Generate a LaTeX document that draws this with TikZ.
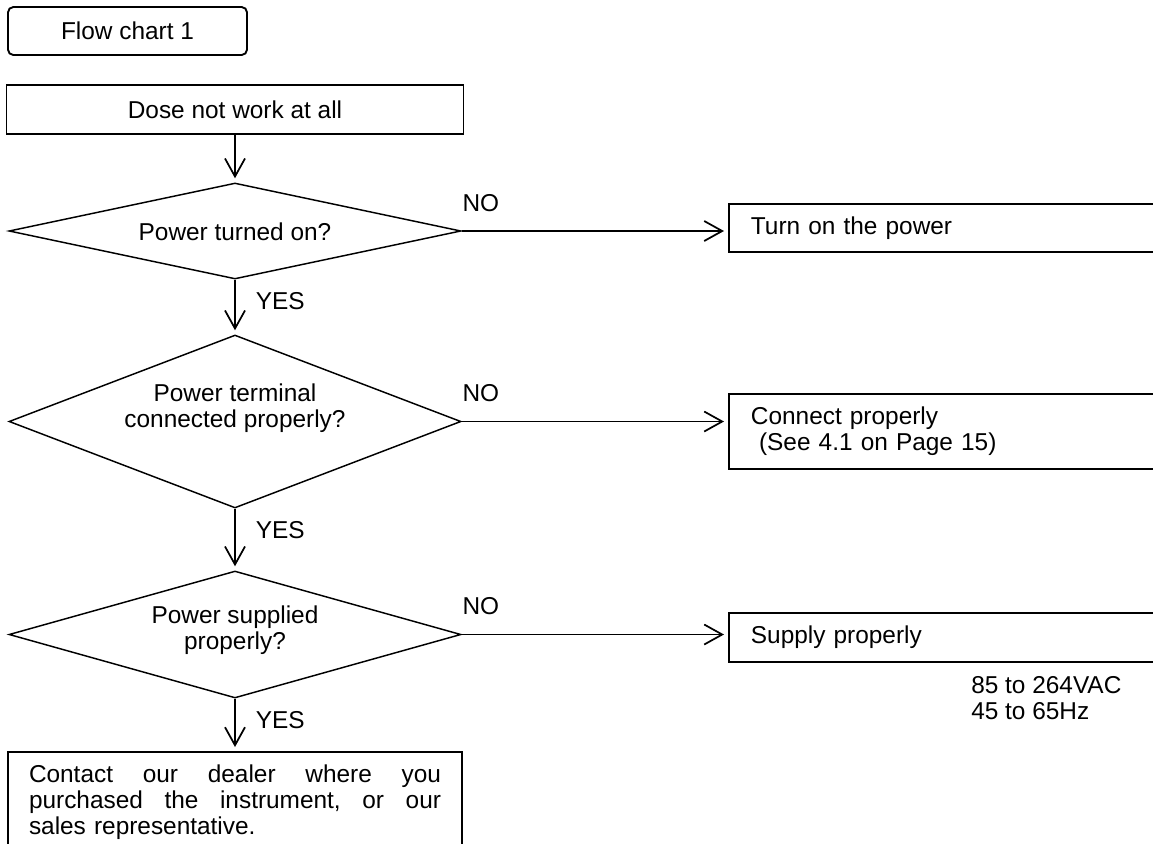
\documentclass[tikz,border=0pt]{standalone}
\usepackage{fontspec}
\setmainfont{Liberation Sans}
\usepackage{tikz}
\usetikzlibrary{arrows.meta,positioning,shapes.geometric,calc}

\tikzset{
  chartbox/.style={draw, line width=1.4pt, minimum height=36.75pt, inner sep=0pt},
  actbox/.style={draw, line width=1.4pt, anchor=west, text width=420pt, inner xsep=16.5pt, inner ysep=0pt, align=left},
  decision/.style={draw, diamond, line width=1.1pt, inner sep=0pt, minimum width=339pt, aspect=3},
  qtext/.style={align=center, inner sep=0pt},
  flow/.style={-{Straight Barb[length=13.5pt,width=15pt]}, line width=1.3pt, shorten >=3pt},
  answer/.style={inner sep=0pt, anchor=west},
  yeslabel/.style={answer, xshift=15pt, yshift=-15.75pt},
  nolabel/.style={answer, yshift=21pt}
}

\begin{document}
\begin{tikzpicture}[x=0.75pt, y=-0.75pt, font=\fontsize{18.3}{19.5}\selectfont]

\useasboundingbox (0,0) rectangle (1153,843);
\clip (0,0) rectangle (1153,843);

% Title box
\node[chartbox, rounded corners=4pt, minimum width=179.25pt, minimum height=36pt] (title) at (127.5,31) {Flow chart 1};

% Main column
\node[chartbox, minimum width=342.75pt] (start) at (235,109.5) {Dose not work at all};

\node[decision, minimum height=72pt] (q1) at (235,231) {};
\node[qtext] (q1text) at (235,232) {Power turned on?};

\node[decision, minimum height=129.75pt] (q2) at (235,421.5) {};
\node[qtext] (q2text) at (235,408) {Power terminal\\connected properly?};

\node[decision, minimum height=95.25pt] (q3) at (235,634.5) {};
\node[qtext] (q3text) at (235,630) {Power supplied\\properly?};

\node[draw, line width=1.4pt, anchor=north, text width=309pt, inner xsep=15.75pt, inner ysep=9.5pt, align=left] (dealer) at (235,751)
  {\makebox[309pt][s]{Contact\hfill our\hfill dealer\hfill where\hfill you}\\
   \makebox[309pt][s]{purchased\hfill the\hfill instrument,\hfill or\hfill our}\\
   sales representative.};

% Remedies (right column)
\node[actbox, minimum height=36pt] (fix1) at (728,228) {Turn on the power};
\node[actbox, minimum height=56.25pt] (fix2) at (728,431.5) {Connect properly\\\ (See 4.1 on Page 15)};
\node[actbox, minimum height=36.75pt] (fix3) at (728,637.5) {Supply properly};
\node[answer, align=left] (rating) at (971,698) {85 to 264VAC\\45 to 65Hz};

% YES branches
\draw[flow] (start) -- (q1);
\draw[flow] (q1) -- (q2) node[pos=0, yeslabel] {YES};
\draw[flow] (q2) -- (q3) node[pos=0, yeslabel] {YES};
\draw[flow] (q3) -- (dealer) node[pos=0, yeslabel] {YES};

% NO branches
\draw[flow] (q1.east) -- (q1.east -| fix1.west) node[pos=0, nolabel] {NO};
\draw[flow] (q2.east) -- (q2.east -| fix2.west) node[pos=0, nolabel] {NO};
\draw[flow] (q3.east) -- (q3.east -| fix3.west) node[pos=0, nolabel] {NO};

\end{tikzpicture}
\end{document}
